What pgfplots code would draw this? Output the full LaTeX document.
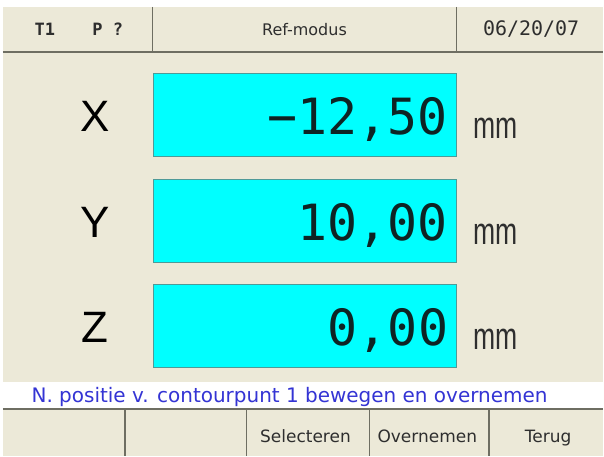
\documentclass[border=0pt]{standalone}
\usepackage{pgfplots}
\pgfplotsset{compat=1.18}
\usepackage{fontspec}
\setmainfont{Liberation Sans}
\newfontfamily\mono{DejaVu Sans Mono}
\newfontfamily\dv{DejaVu Sans}
\definecolor{beige}{HTML}{ECE9D8}
\definecolor{sep}{HTML}{6E6E62}
\definecolor{boxedge}{HTML}{4E9A98}
\definecolor{boxfill}{HTML}{00FFFF}
\definecolor{valcol}{HTML}{0E2424}
\definecolor{msgblue}{HTML}{3434D4}
\definecolor{txt}{HTML}{2E2E2E}
\begin{document}
\begin{tikzpicture}
\begin{axis}[
  width=604pt, height=457pt, scale only axis,
  xmin=0, xmax=604, ymin=0, ymax=457, y dir=reverse,
  axis lines=none, clip=false,
]
% background
\fill[white] (0,0) rectangle (604,457);
\fill[beige] (3,7) rectangle (604,383);
\fill[beige] (3,410) rectangle (604,457);
% header separators
\draw[sep, line width=2pt] (3,52) -- (604,52);
\draw[sep, line width=1.5pt] (153,7) -- (153,52);
\draw[sep, line width=1.5pt] (457,7) -- (457,52);
% bottom bar
\draw[sep, line width=2pt] (3,410) -- (604,410);
\draw[sep, line width=1.5pt] (125,410) -- (125,457);
\draw[sep, line width=1.5pt] (247,410) -- (247,457);
\draw[sep, line width=1.5pt] (370,410) -- (370,457);
\draw[sep, line width=1.5pt] (490,410) -- (490,457);
% value boxes
\addplot[fill=boxfill, draw=boxedge, line width=1.2pt] coordinates {(154,74) (457,74) (457,157) (154,157)} -- cycle;
\addplot[fill=boxfill, draw=boxedge, line width=1.2pt] coordinates {(154,180) (457,180) (457,263) (154,263)} -- cycle;
\addplot[fill=boxfill, draw=boxedge, line width=1.2pt] coordinates {(154,285) (457,285) (457,368) (154,368)} -- cycle;
% header texts
\node[txt, anchor=base, inner sep=0] at (45,36) {\mono\fontsize{17}{20}\selectfont\bfseries T1};
\node[txt, anchor=base, inner sep=0] at (108,36) {\mono\fontsize{17}{20}\selectfont\bfseries P ?};
\node[txt, anchor=base, inner sep=0] at (305,36) {\dv\fontsize{16}{19}\selectfont Ref-modus};
\node[txt, anchor=base, inner sep=0] at (532,36) {\mono\fontsize{20}{24}\selectfont 06/20/07};
% axis labels
\node[black, anchor=base, inner sep=0] at (95,132) {\fontsize{44}{50}\selectfont X};
\node[black, anchor=base, inner sep=0] at (95,238) {\fontsize{44}{50}\selectfont Y};
\node[black, anchor=base, inner sep=0] at (95,343) {\fontsize{44}{50}\selectfont Z};
% values
\node[valcol, anchor=base east, inner sep=0] at (449,135) {\mono\fontsize{50}{60}\selectfont −12,50};
\node[valcol, anchor=base east, inner sep=0] at (449,241) {\mono\fontsize{50}{60}\selectfont 10,00};
\node[valcol, anchor=base east, inner sep=0] at (449,346) {\mono\fontsize{50}{60}\selectfont 0,00};
% units
\node[txt, anchor=base west, inner sep=0] at (474,139) {\scalebox{0.7}[1]{\fontsize{38}{44}\selectfont mm}};
\node[txt, anchor=base west, inner sep=0] at (474,245) {\scalebox{0.7}[1]{\fontsize{38}{44}\selectfont mm}};
\node[txt, anchor=base west, inner sep=0] at (474,350) {\scalebox{0.7}[1]{\fontsize{38}{44}\selectfont mm}};
% message
\node[msgblue, anchor=base, inner sep=0] at (290,403) {\dv\fontsize{20}{24}\selectfont N. positie v. contourpunt 1 bewegen en overnemen};
% buttons
\node[txt, anchor=base, inner sep=0] at (306,443) {\dv\fontsize{17}{20}\selectfont Selecteren};
\node[txt, anchor=base, inner sep=0] at (428,443) {\dv\fontsize{17}{20}\selectfont Overnemen};
\node[txt, anchor=base, inner sep=0] at (549,443) {\dv\fontsize{17}{20}\selectfont Terug};
\end{axis}
\end{tikzpicture}
\end{document}
